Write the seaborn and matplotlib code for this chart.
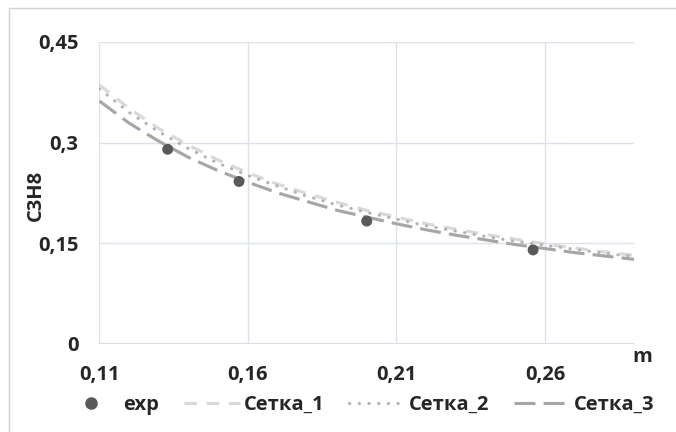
import matplotlib
matplotlib.use("Agg")
import pandas as pd
import seaborn as sns
from matplotlib import pyplot as plt
from matplotlib.lines import Line2D
from matplotlib.patches import Rectangle
from matplotlib.ticker import FixedLocator, FuncFormatter

m_grid = [0.11, 0.12, 0.13, 0.14, 0.15, 0.16, 0.17, 0.18, 0.19, 0.20,
          0.21, 0.22, 0.23, 0.24, 0.25, 0.26, 0.27, 0.28, 0.29]
setka_1 = [0.386, 0.351, 0.321, 0.296, 0.274, 0.255, 0.238, 0.224, 0.211, 0.199,
           0.189, 0.179, 0.171, 0.163, 0.156, 0.149, 0.143, 0.137, 0.132]
setka_2 = [0.380, 0.345, 0.316, 0.291, 0.269, 0.251, 0.235, 0.220, 0.207, 0.196,
           0.186, 0.176, 0.168, 0.160, 0.153, 0.147, 0.141, 0.135, 0.130]
setka_3 = [0.362, 0.329, 0.302, 0.278, 0.258, 0.241, 0.225, 0.212, 0.199, 0.189,
           0.179, 0.170, 0.162, 0.155, 0.148, 0.142, 0.136, 0.131, 0.126]
exp_m = [0.133, 0.157, 0.200, 0.256]
exp_c3h8 = [0.290, 0.242, 0.183, 0.140]

x_ticks = [0.11, 0.16, 0.21, 0.26]
y_ticks = [0, 0.15, 0.3, 0.45]

curves = pd.DataFrame({'m': m_grid, 'Сетка_1': setka_1, 'Сетка_2': setka_2, 'Сетка_3': setka_3})
points = pd.DataFrame({'m': exp_m, 'C3H8': exp_c3h8})

sns.set_style('white')
plt.rcParams['font.family'] = ['Open Sans', 'DejaVu Sans']
FS = 14.5

fig = plt.figure(figsize = (6.76, 4.32), dpi = 100)
ax = fig.add_axes([0.147, 0.204, 0.791, 0.699])

# outer chart border (only left/top edges visible in the reference)
fig.patches.append(Rectangle((9 / 676, -0.1), 1.2, 1.1 - 8 / 432,
                             transform = fig.transFigure, fill = False,
                             edgecolor = '#d0d0d0', linewidth = 1.0))

LW = 2.25
styles = {
    'Сетка_1': dict(color = '#d9d9d9', linestyle = (0, (4, 3.1))),
    'Сетка_2': dict(color = '#b4b4b4', linestyle = (0, (0.1, 3.0)), dash_capstyle = 'round'),
    'Сетка_3': dict(color = '#a6a6a6', linestyle = (0, (6.7, 2.6))),
}

for name, st in styles.items():
    sns.lineplot(curves, x = 'm', y = name, linewidth = LW, ax = ax,
                 legend = False, **st)
sns.scatterplot(points, x = 'm', y = 'C3H8', color = '#595959', s = 62,
                edgecolor = 'none', zorder = 5, ax = ax, legend = False)

ax.set_xlim(0.11, 0.29)
ax.set_ylim(0, 0.45)
ax.xaxis.set_major_locator(FixedLocator(x_ticks))
ax.yaxis.set_major_locator(FixedLocator(y_ticks))
ax.xaxis.set_major_formatter(FuncFormatter(lambda v, p: f"{v:.2f}".replace('.', ',')))
ax.yaxis.set_major_formatter(FuncFormatter(lambda v, p: f"{v:g}".replace('.', ',')))
ax.grid(False)
for yv in y_ticks[1:]:
    ax.axhline(yv, color = '#dde2ea', linewidth = 1.0, zorder = 0)
for xv in x_ticks:
    ax.axvline(xv, color = '#dde2ea', linewidth = 1.0, zorder = 0)
for side in ax.spines:
    ax.spines[side].set_visible(False)
ax.axhline(0, color = '#cfd6e0', linewidth = 1.2, zorder = 1)
ax.tick_params(length = 0, labelsize = FS)
ax.tick_params(axis = 'x', pad = 15)
ax.tick_params(axis = 'y', pad = 15)
for lbl in ax.get_xticklabels() + ax.get_yticklabels():
    lbl.set_fontweight('bold')

ax.set_xlabel('')
ax.set_ylabel('')
fig.text(36 / 676, 1 - 195 / 432, 'C3H8', fontsize = FS, fontweight = 'bold',
         rotation = 90, ha = 'center', va = 'center')
fig.text(642 / 676, 1 - 357 / 432, 'm', fontsize = FS, fontweight = 'bold',
         ha = 'center', va = 'center')

handles = [
    Line2D([], [], marker = 'o', linestyle = 'none', color = '#595959', markersize = 8),
    Line2D([], [], linewidth = LW, **styles['Сетка_1']),
    Line2D([], [], linewidth = LW, **styles['Сетка_2']),
    Line2D([], [], linewidth = LW, **styles['Сетка_3']),
]
fig.legend(handles, ['exp', 'Сетка_1', 'Сетка_2', 'Сетка_3'],
           loc = 'center', bbox_to_anchor = (359 / 676, 1 - 405 / 432),
           ncol = 4, frameon = False, prop = {'size': FS, 'weight': 'bold'},
           handlelength = 2.75, columnspacing = 1.25, handletextpad = 0.2,
           borderpad = 0, borderaxespad = 0)

fig.savefig('out.png', dpi = 100)
plt.close(fig)
